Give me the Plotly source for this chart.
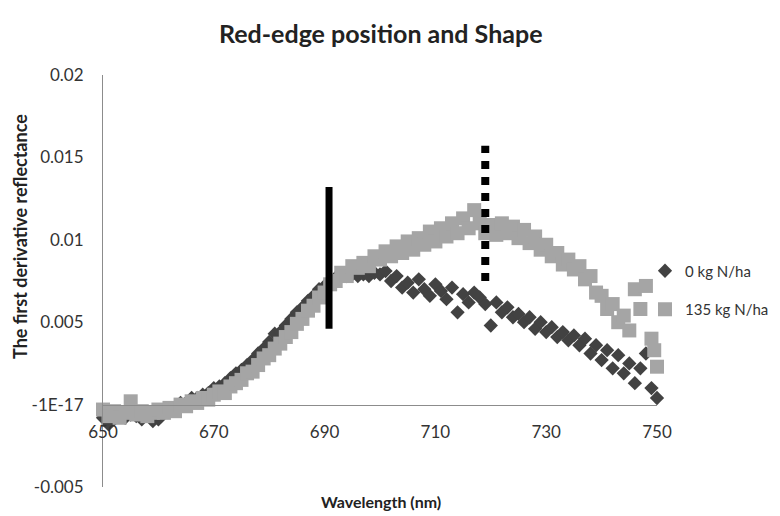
import plotly.graph_objects as go

# ---- data ----
wl_0kg = [650, 651, 652, 653, 654, 655, 656, 657, 658, 659,
          660, 661, 662, 663, 664, 665, 666, 667, 668, 669,
          670, 671, 672, 673, 674, 675, 676, 677, 678, 679,
          680, 681, 682, 683, 684, 685, 686, 687, 688, 689,
          690, 691, 692, 693, 694, 695, 696, 697, 698, 699,
          700, 701, 702, 703, 704, 705, 706, 707, 708, 709,
          710, 711, 712, 713, 714, 715, 716, 717, 718, 719,
          720, 721, 722, 723, 724, 725, 726, 727, 728, 729,
          730, 731, 732, 733, 734, 735, 736, 737, 738, 739,
          740, 741, 742, 743, 744, 745, 746, 747, 748, 749,
          750, 750.5]
d1_0kg = [-0.0008, -0.0012, -0.0009, -0.0007, -0.0008, -0.0006, -0.0007, -0.0009, -0.0006, -0.0010,
          -0.0009, -0.0005, -0.0003, -0.0002, 0.0001, 0.0001, 0.0004, 0.0004, 0.0006, 0.0007,
          0.0010, 0.0011, 0.0013, 0.0016, 0.0019, 0.0021, 0.0024, 0.0027, 0.0031, 0.0034,
          0.0038, 0.0043, 0.0044, 0.0048, 0.0052, 0.0056, 0.0059, 0.0063, 0.0066, 0.0070,
          0.0072, 0.0075, 0.0077, 0.0078, 0.0078, 0.0079, 0.0078, 0.0079, 0.0078, 0.0080,
          0.0079, 0.0081, 0.0075, 0.0078, 0.0071, 0.0074, 0.0068, 0.0076, 0.0070, 0.0066,
          0.0073, 0.0069, 0.0064, 0.0071, 0.0056, 0.0067, 0.0062, 0.0068, 0.0065, 0.0061,
          0.0048, 0.0062, 0.0056, 0.0059, 0.0053, 0.0055, 0.0050, 0.0053, 0.0046, 0.0050,
          0.0044, 0.0047, 0.0041, 0.0044, 0.0039, 0.0042, 0.0036, 0.0040, 0.0031, 0.0036,
          0.0027, 0.0033, 0.0022, 0.0030, 0.0019, 0.0025, 0.0013, 0.0022, 0.0031, 0.0010,
          0.0004, -0.0003]

wl_135kg = [650, 651, 652, 653, 654, 655, 656, 657, 658, 659,
            660, 661, 662, 663, 664, 665, 666, 667, 668, 669,
            670, 671, 672, 673, 674, 675, 676, 677, 678, 679,
            680, 681, 682, 683, 684, 685, 686, 687, 688, 689,
            690, 691, 692, 693, 694, 695, 696, 697, 698, 699,
            700, 701, 702, 703, 704, 705, 706, 707, 708, 709,
            710, 711, 712, 713, 714, 715, 716, 717, 718, 719,
            720, 721, 722, 723, 724, 725, 726, 727, 728, 729,
            730, 731, 732, 733, 734, 735, 736, 737, 738, 739,
            740, 741, 742, 743, 744, 745, 746, 747, 748, 749,
            749.5, 750, 750.5]
d1_135kg = [-0.0003, -0.0007, -0.0004, -0.0008, -0.0005, 0.0002, -0.0006, -0.0004, -0.0007, -0.0005,
            -0.0003, -0.0005, -0.0002, -0.0004, 0.0000, -0.0001, 0.0002, 0.0001, 0.0004, 0.0003,
            0.0006, 0.0008, 0.0007, 0.0011, 0.0013, 0.0015, 0.0019, 0.0020, 0.0024, 0.0028,
            0.0030, 0.0034, 0.0037, 0.0041, 0.0044, 0.0049, 0.0052, 0.0057, 0.0060, 0.0065,
            0.0068, 0.0073, 0.0075, 0.0080, 0.0078, 0.0084, 0.0083, 0.0086, 0.0084, 0.0090,
            0.0088, 0.0093, 0.0090, 0.0096, 0.0092, 0.0099, 0.0094, 0.0101, 0.0097, 0.0105,
            0.0099, 0.0107, 0.0102, 0.0110, 0.0104, 0.0113, 0.0107, 0.0118, 0.0110, 0.0104,
            0.0109, 0.0103, 0.0110, 0.0104, 0.0108, 0.0101, 0.0106, 0.0098, 0.0102, 0.0094,
            0.0097, 0.0090, 0.0092, 0.0085, 0.0088, 0.0082, 0.0084, 0.0076, 0.0078, 0.0068,
            0.0066, 0.0058, 0.0061, 0.0050, 0.0054, 0.0045, 0.0070, 0.0058, 0.0072, 0.0040,
            0.0033, 0.0023, 0.0014]

# red-edge position markers (wavelength, y from, y to)
rep_0kg_x = [690.8, 690.8]
rep_0kg_y = [0.0046, 0.0132]
rep_135kg_x = [719.0, 719.0]
rep_135kg_y = [0.0075, 0.0157]

series_names = ["0 kg N/ha", "135 kg N/ha"]
x_ticks = [650, 670, 690, 710, 730, 750]
y_ticks = [-0.005, 0, 0.005, 0.01, 0.015, 0.02]
y_ticktext = ["-0.005", "-1E-17", "0.005", "0.01", "0.015", "0.02"]

FONT = "Lato"
TXT = "#333333"
TTL = "#222222"

# page geometry (the page body has an 8px margin)
OFF = 8
PAGE_W, PAGE_H = 780, 516
plot_left, plot_right, plot_top, plot_bottom = 103, 657, 75, 487
W, H = PAGE_W - OFF, PAGE_H - OFF
ml, mt = plot_left - OFF, plot_top - OFF
mr, mb = PAGE_W - plot_right, PAGE_H - plot_bottom
pw, ph = W - ml - mr, H - mt - mb


def px2paper(px, py):
    return (px - OFF - ml) / pw, 1 - (py - OFF - mt) / ph


fig = go.Figure()
fig.add_trace(go.Scatter(
    x=wl_0kg, y=d1_0kg, mode="markers", name=series_names[0],
    marker=dict(symbol="diamond", size=11, color="#424242"),
    cliponaxis=False, legendgroup="a"))
fig.add_trace(go.Scatter(
    x=wl_135kg, y=d1_135kg, mode="markers", name=series_names[1],
    marker=dict(symbol="square", size=14, color="#a5a5a5"),
    cliponaxis=False, legendgroup="b"))
fig.add_trace(go.Scatter(
    x=rep_0kg_x, y=rep_0kg_y, mode="lines", showlegend=False,
    line=dict(color="black", width=7), cliponaxis=False))
fig.add_trace(go.Scatter(
    x=rep_135kg_x, y=rep_135kg_y, mode="lines", showlegend=False,
    line=dict(color="black", width=8, dash="8px,8px"), cliponaxis=False))

tx, ty = px2paper(381, 33)
xx, xy = px2paper(381, 501)
yx, yy = px2paper(20, 237)
lx, ly = px2paper(645, 290)

fig.update_layout(
    width=W, height=H,
    margin=dict(l=ml, r=mr, t=mt, b=mb, pad=0, autoexpand=False),
    paper_bgcolor="white", plot_bgcolor="white",
    font=dict(family=FONT, size=17, color=TXT),
    showlegend=True,
    legend=dict(x=lx, y=ly, xanchor="left", yanchor="middle",
                font=dict(family=FONT, size=15, color=TXT),
                tracegroupgap=16, itemwidth=30, bgcolor="rgba(0,0,0,0)"),
    annotations=[
        dict(text="<b>Red-edge position and Shape</b>", x=tx, y=ty, xref="paper", yref="paper",
             xanchor="center", yanchor="middle", showarrow=False,
             font=dict(family=FONT, size=25, color=TTL)),
        dict(text="<b>Wavelength (nm)</b>", x=xx, y=xy, xref="paper", yref="paper",
             xanchor="center", yanchor="middle", showarrow=False,
             font=dict(family=FONT, size=16, color=TTL)),
        dict(text="<b>The first derivative reflectance</b>", x=yx, y=yy, xref="paper", yref="paper",
             xanchor="center", yanchor="middle", showarrow=False, textangle=-90,
             font=dict(family=FONT, size=18, color=TTL)),
    ],
)

yr = [-0.005, 0.02]
fig.update_xaxes(
    range=[650, 750], tickvals=x_ticks, ticktext=[str(v) for v in x_ticks],
    showgrid=False, zeroline=False, showline=True, linecolor="#8c8c8c", linewidth=1,
    anchor="free", position=(0 - yr[0]) / (yr[1] - yr[0]),
    ticks="outside", ticklen=12, tickcolor="rgba(0,0,0,0)",
    tickfont=dict(family=FONT, size=17, color=TXT))
fig.update_yaxes(
    range=yr, tickvals=y_ticks, ticktext=y_ticktext,
    showgrid=False, zeroline=False, showline=True, linecolor="#8c8c8c", linewidth=1,
    ticks="outside", ticklen=15, tickcolor="rgba(0,0,0,0)",
    tickfont=dict(family=FONT, size=17, color=TXT))

fig.write_html("out.html")
